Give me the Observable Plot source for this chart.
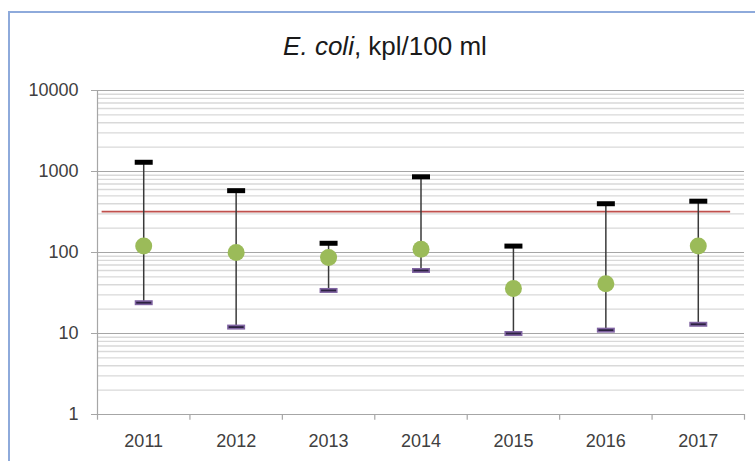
<!DOCTYPE html>
<html>
<head>
<meta charset="utf-8">
<script src="https://cdn.jsdelivr.net/npm/d3@7"></script>
<script src="https://cdn.jsdelivr.net/npm/@observablehq/plot@0.6"></script>
<style>
  html, body { margin: 0; padding: 0; background: #fff; overflow: hidden; }
  #wrap { position: relative; width: 755px; height: 461px; overflow: hidden; background: #fff; }
  #frame { position: absolute; left: 8px; top: 11px; width: 800px; height: 500px;
           border-left: 2px solid #8eaadb; border-top: 2px solid #8eaadb; box-sizing: border-box; }
  #title { position: absolute; left: 0; width: 770px; top: 31px; text-align: center;
           font-family: "Liberation Sans", Arial, sans-serif; font-size: 26px; color: #1a1a1a; }
  #chart { position: absolute; left: 0; top: 0; }
  #chart svg [aria-label="y-axis tick"] path,
  #chart svg [aria-label="y-axis"] line { stroke: #a6a6a6; }
</style>
</head>
<body>
<div id="wrap">
  <div id="frame"></div>
  <div id="chart"></div>
  <div id="title"><i>E. coli</i>, kpl/100 ml</div>
</div>
<script>
const years = [2011, 2012, 2013, 2014, 2015, 2016, 2017];
const maxValues = [1300, 580, 130, 860, 120, 400, 430];
const meanValues = [120, 100, 87, 110, 36, 41, 120];
const minValues = [24, 12, 34, 60, 10, 11, 13];
const limitValue = 320;
const yTicks = [1, 10, 100, 1000, 10000];

const rows = years.map((year, i) => ({year, max: maxValues[i], mean: meanValues[i], min: minValues[i]}));
const majorGrid = yTicks.slice(1);
const minorGrid = [];
for (const d of yTicks.slice(0, -1)) for (let k = 2; k <= 9; k++) minorGrid.push(d * k);
const boundaries = [years[0] - 0.5, ...years.map(y => y + 0.5)];

const dash = {draw(ctx) { ctx.rect(-9, -2.5, 18, 5); }};
const innerDash = {draw(ctx) { ctx.rect(-7.5, -0.9, 15, 1.8); }};

const chart = Plot.plot({
  width: 755,
  height: 461,
  marginLeft: 97,
  marginRight: 11,
  marginTop: 90,
  marginBottom: 47,
  style: {fontFamily: "Liberation Sans, Arial, sans-serif", fontSize: "18px", color: "#404040", background: "transparent", overflow: "visible"},
  x: {type: "linear", domain: [years[0] - 0.5, years[years.length - 1] + 0.5], ticks: years,
      tickFormat: d => String(d), tickSize: 0, tickPadding: 20, label: null},
  y: {type: "log", domain: [1, 10000], ticks: yTicks, tickFormat: d => String(d),
      tickSize: 6, tickPadding: 13, label: null},
  marks: [
    Plot.ruleY(minorGrid, {stroke: "#d9d9d9", strokeWidth: 1.4}),
    Plot.ruleY(majorGrid, {stroke: "#a6a6a6", strokeWidth: 1.2}),
    Plot.ruleY([1], {stroke: "#a6a6a6", strokeWidth: 1.2}),
    Plot.ruleX([boundaries[0]], {y1: 1, y2: 10000, stroke: "#a6a6a6", strokeWidth: 1.2}),
    Plot.ruleX(boundaries, {y1: 1, y2: 0.85, stroke: "#a6a6a6", strokeWidth: 1.2, clip: false}),
    Plot.ruleY([limitValue], {x1: years[0] - 0.45, x2: years[years.length - 1] + 0.35, stroke: "#c0504d", strokeWidth: 1.8}),
    Plot.ruleX(rows, {x: "year", y1: "min", y2: "max", stroke: "#3a3a3a", strokeWidth: 1.5}),
    Plot.dot(rows, {x: "year", y: "max", symbol: dash, r: 4, fill: "#000", stroke: "none"}),
    Plot.dot(rows, {x: "year", y: "min", symbol: dash, r: 4, fill: "#8064a2", stroke: "none"}),
    Plot.dot(rows, {x: "year", y: "min", symbol: innerDash, r: 4, fill: "#2b2140", stroke: "none"}),
    Plot.dot(rows, {x: "year", y: "mean", r: 8.5, fill: "#9bbb59", stroke: "none"})
  ]
});
document.getElementById("chart").appendChild(chart);
</script>
</body>
</html>
